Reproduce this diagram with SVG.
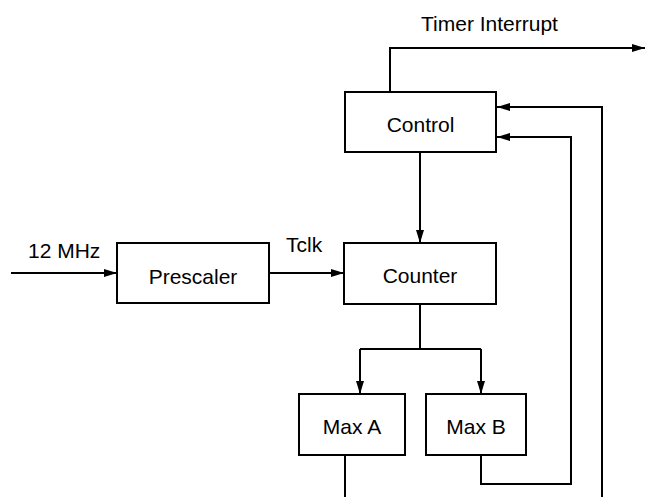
<svg xmlns="http://www.w3.org/2000/svg" width="651" height="497" viewBox="0 0 651 497">
<style>
.box{fill:#fff;stroke:#000;stroke-width:2}
.ln{fill:none;stroke:#000;stroke-width:2}
text{font-family:"Liberation Sans",Arial,sans-serif;font-size:21px;fill:#000}
.c{text-anchor:middle}
</style>
<defs>
<marker id="ah" markerUnits="userSpaceOnUse" markerWidth="14" markerHeight="8" refX="13" refY="4" orient="auto">
<path d="M0,0 L13,4 L0,8 z" fill="#000"/>
</marker>
</defs>
<g id="connectors">
<path class="ln" d="M390,92 V48 H645" marker-end="url(#ah)"/>
<path class="ln" d="M420,152 V243" marker-end="url(#ah)"/>
<path class="ln" d="M11,273 H117" marker-end="url(#ah)"/>
<path class="ln" d="M269,273 H344" marker-end="url(#ah)"/>
<path class="ln" d="M420,304 V349"/>
<path class="ln" d="M360,349 H481"/>
<path class="ln" d="M360,349 V394" marker-end="url(#ah)"/>
<path class="ln" d="M481,349 V394" marker-end="url(#ah)"/>
<path class="ln" d="M345,455 V497"/>
<path class="ln" d="M481,455 V484 H571 V137 H497" marker-end="url(#ah)"/>
<path class="ln" d="M602,497 V107 H497" marker-end="url(#ah)"/>
<text x="421" y="31">Timer Interrupt</text>
<text x="28" y="258">12 MHz</text>
<text x="286" y="252">Tclk</text>
</g>
<g id="control">
<rect class="box" x="345" y="92" width="151" height="60"/>
<text class="c" x="420.5" y="132">Control</text>
</g>
<g id="prescaler">
<rect class="box" x="117" y="243" width="152" height="60"/>
<text class="c" x="193" y="283.5">Prescaler</text>
</g>
<g id="counter">
<rect class="box" x="344" y="243" width="152" height="61"/>
<text class="c" x="420" y="282.5">Counter</text>
</g>
<g id="maxa">
<rect class="box" x="299" y="394" width="106" height="61"/>
<text class="c" x="352" y="434">Max A</text>
</g>
<g id="maxb">
<rect class="box" x="426" y="394" width="100" height="61"/>
<text class="c" x="476" y="434">Max B</text>
</g>
</svg>
